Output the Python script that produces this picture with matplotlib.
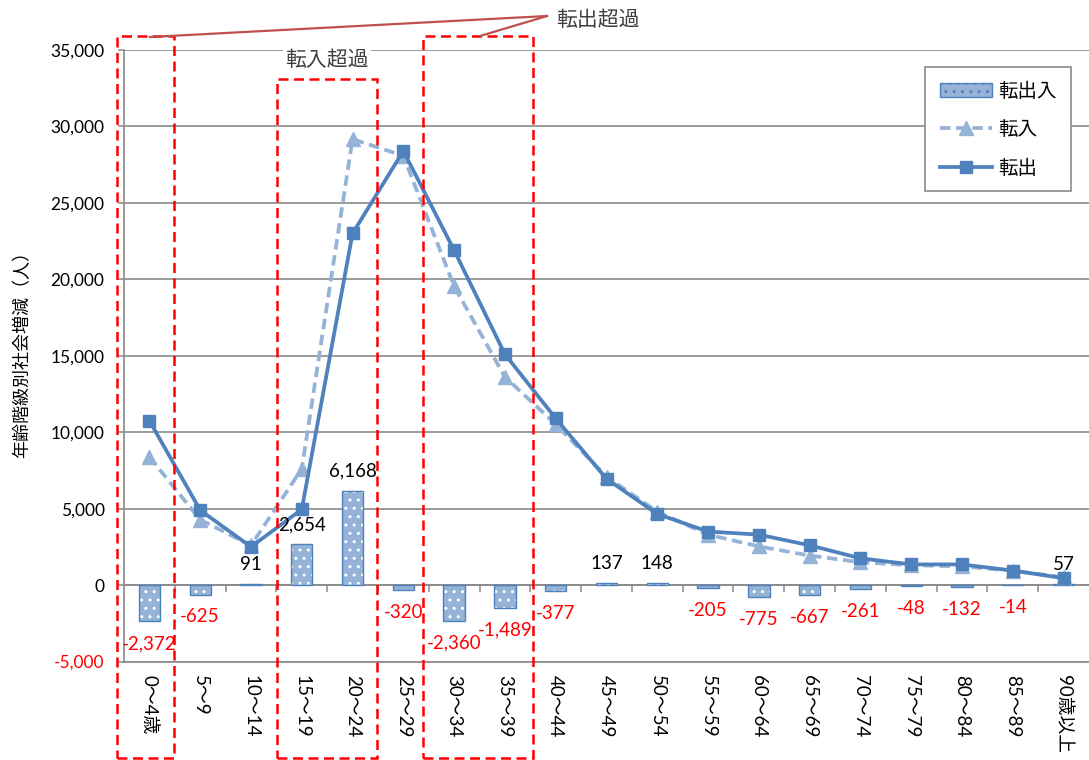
import matplotlib
matplotlib.use('Agg')
import matplotlib.pyplot as plt
import matplotlib.transforms as mtransforms
from matplotlib.lines import Line2D
from matplotlib.patches import Patch, Rectangle
import numpy as np

plt.rcParams['font.family'] = ['Lato', 'Noto Sans CJK JP']

# data
age_groups = ['0～4歳', '5～9', '10～14', '15～19', '20～24', '25～29', '30～34',
              '35～39', '40～44', '45～49', '50～54', '55～59', '60～64', '65～69',
              '70～74', '75～79', '80～84', '85～89', '90歳以上']
tennyu = [8380, 4280, 2590, 7600, 29170, 28080, 19540, 13610, 10520, 7090,
          4800, 3300, 2530, 1930, 1490, 1300, 1220, 940, 510]
tenshutsu = [10750, 4900, 2500, 4950, 23000, 28400, 21900, 15100, 10900, 6950,
             4650, 3500, 3300, 2600, 1750, 1350, 1350, 950, 450]
net = [-2372, -625, 91, 2654, 6168, -320, -2360, -1489, -377, 137, 148, -205,
       -775, -667, -261, -48, -132, -14, 57]
yticks = [-5000, 0, 5000, 10000, 15000, 20000, 25000, 30000, 35000]

W, H = 1089, 760
BAR_BLUE = '#95B3D7'
LINE_BLUE = '#4F81BD'
GRID = '#8a8a8a'


def px(x, y):
    # figure pixel position -> figure fraction
    return x / W, 1 - y / H


fig = plt.figure(figsize=(W / 100, H / 100), dpi=100)
ax = fig.add_axes([124 / W, 1 - 661.5 / H, 965 / W, 611.5 / H])

x = np.arange(len(age_groups))

ax.bar(x, net, width=0.42, color=BAR_BLUE, edgecolor='white', hatch='..',
       linewidth=0, zorder=2)
ax.bar(x, net, width=0.42, fill=False, edgecolor=LINE_BLUE, linewidth=1.0, zorder=2)

ax.plot(x, tennyu, color=BAR_BLUE, lw=2.7, ls=(0, (2.8, 1.5)), marker='^', ms=10,
        zorder=3)
ax.plot(x, tenshutsu, color=LINE_BLUE, lw=2.7, marker='s', ms=8, zorder=4)

for i, v in enumerate(net):
    if v >= 0:
        ax.annotate(f'{v:,}', (i, v), xytext=(0, 14), textcoords='offset points',
                    ha='center', va='center', fontsize=13.5, color='black', zorder=5)
    else:
        ax.annotate(f'{v:,}', (i, v), xytext=(0, -16), textcoords='offset points',
                    ha='center', va='center', fontsize=13.5, color='red', zorder=5)

ax.set_xlim(-0.5, len(age_groups) - 0.5)
ax.set_ylim(-5000, 35000)
ax.set_yticks(yticks, labels=[f'{v:,}' for v in yticks])
for lab, v in zip(ax.get_yticklabels(), yticks):
    lab.set_color('red' if v < 0 else 'black')
ax.tick_params(axis='y', direction='out', length=4, width=1.1, color=GRID,
               pad=10, labelsize=12.5)
ax.yaxis.grid(True, color=GRID, lw=1.2)
ax.set_axisbelow(True)

ax.set_xticks(x, labels=age_groups, rotation=-90, ha='center', va='top')
ax.tick_params(axis='x', length=0, pad=10, labelsize=13.5)

for side in ['top', 'right']:
    ax.spines[side].set_visible(False)
for side in ['left', 'bottom']:
    ax.spines[side].set_color(GRID)
    ax.spines[side].set_linewidth(1.2)

# horizontal axis crossing at zero with tick marks between categories
zero_ax = ax.secondary_xaxis(5000 / 40000)
zero_ax.set_xticks(x[:-1] + 0.5, labels=[])
zero_ax.tick_params(direction='out', length=5, width=1.1, color=GRID)
zero_ax.spines['bottom'].set_color(GRID)
zero_ax.spines['bottom'].set_linewidth(1.2)

handles = [
    Patch(facecolor=BAR_BLUE, edgecolor=LINE_BLUE, hatch='..'),
    Line2D([], [], color=BAR_BLUE, lw=2.7, ls=(0, (2.8, 1.5)), marker='^', ms=10),
    Line2D([], [], color=LINE_BLUE, lw=2.7, marker='s', ms=8),
]
leg = ax.legend(handles, ['転出入', '転入', '転出'], loc='upper left',
                bbox_to_anchor=px(925, 67), bbox_transform=fig.transFigure,
                fontsize=14, handlelength=2.7, labelspacing=1.05, borderpad=0.75,
                handletextpad=0.3, borderaxespad=0, fancybox=False, framealpha=1)
leg.get_frame().set_edgecolor(GRID)
leg.get_frame().set_linewidth(1.2)
leg.set_zorder(7)

# red dashed highlight boxes (x in data units, y in figure fraction)
blend = mtransforms.blended_transform_factory(ax.transData, fig.transFigure)
boxes = [(-0.64, 0.48, 36), (2.51, 4.48, 79), (5.39, 7.55, 36)]
for x0, x1, top in boxes:
    y_top = 1 - top / H
    y_bot = 1 - 758 / H
    ax.add_patch(Rectangle((x0, y_bot), x1 - x0, y_top - y_bot, transform=blend,
                           fill=False, edgecolor='#FF0000', lw=1.8,
                           ls=(0, (4, 2.2)), clip_on=False, zorder=8))

# callout lines for 転出超過
for sx, sy in [(150, 37), (480, 36)]:
    (ax0, ay0), (ax1, ay1) = px(sx, sy), px(547, 16)
    fig.add_artist(Line2D([ax0, ax1], [ay0, ay1], transform=fig.transFigure,
                          color='#C0504D', lw=1.6, zorder=8))

fig.text(*px(598, 20), '転出超過', ha='center', va='center', fontsize=15,
         color='#404040')
fig.text(*px(327, 60), '転入超過', ha='center', va='center', fontsize=15,
         color='#404040', zorder=6,
         bbox=dict(facecolor='white', edgecolor='none', pad=2))

fig.text(*px(22, 350), '年齢階級別社会増減（人）', rotation=90, ha='center',
         va='center', fontsize=13, color='black')

fig.savefig('out.png', dpi=100)
